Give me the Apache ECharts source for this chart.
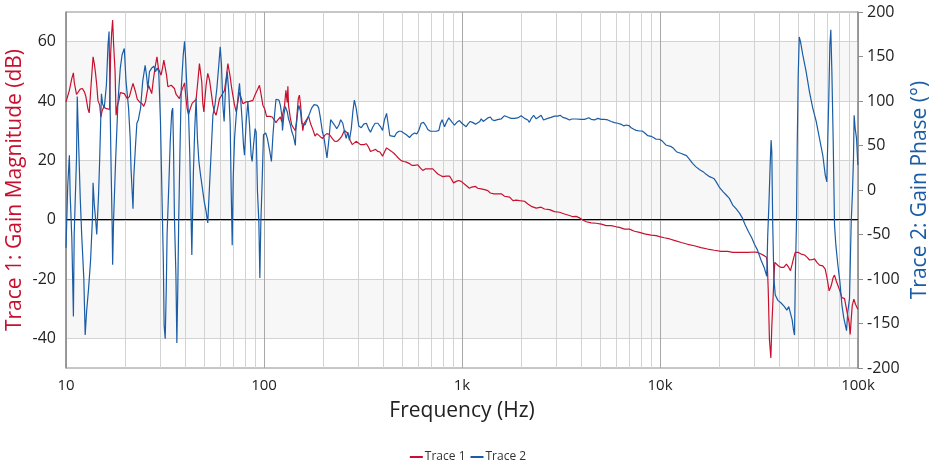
<!DOCTYPE html>
<html><head><meta charset="utf-8">
<script src="https://cdn.jsdelivr.net/npm/echarts@6/dist/echarts.min.js"></script>
<style>html,body{margin:0;padding:0;background:#fff}#c{width:936px;height:468px}</style>
</head><body><div id="c"></div>
<script>
// Trace 1: gain magnitude (dB)
const freq1 = [
10.0,10.4,10.7,10.9,11.0,11.3,11.5,11.8,12.1,12.4,
12.6,12.9,13.1,13.4,13.7,13.9,14.1,14.3,14.5,14.8,
15.0,15.2,15.5,16.0,16.3,16.6,16.8,17.0,17.2,17.4,
17.7,17.9,18.2,18.5,18.8,19.2,19.7,20.4,20.9,21.5,
21.8,22.4,22.9,23.5,24.2,24.7,25.2,25.6,26.1,26.5,
27.1,27.6,28.2,28.8,29.3,29.9,30.2,30.7,31.2,31.7,
32.2,32.7,33.3,34.0,34.6,35.3,36.0,36.7,37.4,38.2,
38.9,39.7,40.3,40.9,41.6,42.4,43.4,44.4,45.4,46.3,
47.2,48.0,48.5,49.1,49.7,50.3,51.0,52.0,53.1,54.1,
55.2,56.2,57.3,58.5,59.6,60.8,62.0,63.2,64.4,65.7,
66.4,67.5,68.5,69.6,71.0,72.4,73.8,75.2,76.7,78.2,
79.7,81.3,82.9,84.5,86.1,87.8,89.9,92.4,94.9,96.8,
98.7,101,103,107,110,113,115,117,121,123,
124,127,129,131,132,133,136,138,141,144,
146,149,151,153,155,157,159,162,165,168,
172,176,181,185,189,193,198,203,208,214,
221,227,234,241,247,255,260,266,272,279,
284,292,298,307,319,329,337,345,355,366,
376,385,397,406,416,425,439,453,465,478,
493,508,524,543,558,576,598,617,634,652,
677,712,732,755,779,800,832,865,882,906,
935,960,990,1010,1050,1090,1120,1170,1200,1250,
1300,1350,1390,1450,1580,1640,1740,1810,1880,1950,
2070,2150,2240,2370,2510,2610,2770,2930,3110,3290,
3490,3630,3770,3920,4080,4240,4490,4760,5050,5350,
5670,6010,6240,6620,7010,7430,7880,8350,9020,9560,
9940,10500,11200,11800,12800,13800,14900,16100,17400,18800,
20400,22000,23300,25700,27800,30000,31000,32400,33700,34500,
34800,35200,35700,36300,36700,37100,37600,38000,38800,39700,
40900,42200,43500,44700,45600,46500,47400,48200,49700,51600,
53700,55400,56900,58500,60300,62000,63900,66400,68300,69900,
71500,73200,74900,76100,77600,79100,81000,82900,85500,87500,
88800,90200,91300,92400,93500,95300,97100,99800];
const mag1 = [
39.7,43.6,47.6,49.5,46.4,42.2,42.8,44,44.2,43,
41.5,37.4,36,45.9,54.9,52.6,49.3,45.3,40.2,38.6,
34.6,36.5,38,37.4,37.2,37.2,55.5,62.8,67.3,58.9,
49.8,35.2,38.6,40.2,42.8,43.3,42.5,40.8,41.5,44.6,
45.9,43.3,40.6,39.7,39.1,38.2,39.7,42.5,45.3,44.2,
42.5,47,51.5,54.9,51,50.4,48.7,51,53.8,53.3,
48.7,44.8,44.5,45.3,45.9,44.2,42.2,41.8,40.8,43,
44.6,46.1,41.4,37.4,35.4,37.4,39.3,39.3,40.5,46.4,
52.6,52,46.4,39.1,36.3,40.8,45.3,49.3,47,43,
38.6,36.3,35.2,38,40.8,41.7,42.2,43.6,47.6,52.6,
52,48.1,44.8,42,38.6,36.3,39.7,43,41,39.1,
39.7,39.7,40.2,39.9,39.3,40.2,41.9,43.6,45.3,42,
38.6,37.2,34.8,34.8,34.6,33.5,32.7,33.5,34.6,33,
35.2,38.5,43.6,39.5,45,38.5,34,32,30.9,30,
33.4,40.8,42,38.6,34,30,32.3,32.3,34,34.8,
32.3,30.6,28.2,29,29.4,27.9,27.4,28.5,29,28.7,
27.4,26.5,26.4,27.2,28.1,30.1,30.7,29,26.8,25.3,
25.6,26.4,26,25.3,25.3,25.6,24.5,23,23.3,23.7,
23,22.8,21.4,22.8,24.2,23.7,23.1,22.4,21.6,20.7,
19.9,19.6,19.4,18.9,18.3,18.3,18.5,17.4,16.6,17.1,
17.1,17.1,16.3,15.4,14.9,14.5,14.7,14.7,13.8,12.4,
12.9,13.2,12.9,12.4,11.5,10.6,11,11.2,10.6,10.4,
10.1,9.8,9,8.7,8.7,7.9,7.6,6.4,6.6,6.4,
6.2,5.3,4.5,3.9,4.2,3.6,3.4,2.7,2.5,1.9,
1.4,1,1.1,0.6,-0.1,-0.7,-1.1,-1.2,-1.5,-2,
-2,-2.4,-2.6,-3.2,-3.2,-3.9,-4.3,-4.8,-5.2,-5.4,
-5.7,-6.1,-6.5,-7,-7.7,-8.3,-8.8,-9.4,-9.9,-10.3,
-10.7,-10.7,-11,-11,-11,-10.9,-11,-11.6,-12.2,-12.7,
-14.4,-23.4,-40.4,-46.6,-35.9,-29,-20,-14.4,-15,-15.6,
-16.1,-16.1,-15,-16.1,-17.2,-15,-12.7,-11,-11,-11.6,
-11.9,-12.7,-13.6,-13.5,-13.2,-14.4,-15.3,-15.6,-16.7,-20,
-24,-22.3,-19.5,-18.7,-20.6,-21.2,-24,-26.3,-26.6,-26.8,
-32.4,-34.7,-38.7,-33.6,-29,-26.8,-28.5,-30.2];

// Trace 2: gain phase (degrees)
const freq2 = [
10.0,10.2,10.4,10.5,10.7,10.9,11.0,11.3,11.4,11.6,
11.8,12.0,12.3,12.5,12.7,13.0,13.3,13.6,13.7,13.9,
14.1,14.3,14.6,14.8,15.1,15.3,15.6,16.0,16.3,16.5,
16.7,16.9,17.1,17.2,17.4,17.8,18.3,18.8,19.2,19.7,
20.1,20.7,21.1,21.3,21.8,22.0,22.4,22.8,23.2,23.8,
24.4,25.1,25.5,25.9,26.4,27.1,27.8,28.3,28.9,29.4,
30.0,30.5,31.0,31.3,31.7,32.1,32.4,33.1,33.6,34.2,
34.6,34.9,35.3,35.9,36.3,36.7,37.1,37.6,38.2,39.1,
39.7,40.1,40.8,41.6,42.2,42.7,43.2,44.0,44.7,45.4,
46.1,46.9,47.8,48.7,49.9,51.0,52.0,53.1,54.1,55.2,
56.5,57.8,59.1,60.1,61.0,62.0,62.9,63.9,65.2,66.4,
67.5,68.3,69.1,69.9,71.0,72.4,74.1,75.2,76.4,77.6,
78.8,79.7,81.3,82.9,84.5,86.1,87.1,88.5,90.2,91.3,
92.7,94.2,95.3,96.4,97.9,99.4,102,104,107,109,
111,113,115,119,121,123,124,126,128,131,
133,136,138,141,144,145,148,150,153,155,
158,161,165,170,174,179,182,186,189,193,
197,201,204,208,213,217,221,227,233,239,
244,250,255,260,265,270,276,281,286,292,
301,310,319,329,337,345,355,364,376,388,
397,406,416,422,432,442,456,467,480,493,
508,524,543,558,576,591,605,622,639,654,
672,693,715,741,764,779,794,816,838,858,
875,892,916,942,971,998,1020,1050,1070,1100,
1130,1170,1190,1230,1250,1280,1310,1350,1390,1420,
1460,1510,1580,1640,1700,1770,1840,1910,1990,2070,
2150,2190,2240,2300,2370,2440,2510,2580,2630,2710,
2820,2930,3050,3130,3230,3360,3490,3590,3770,4000,
4160,4370,4490,4670,4850,5050,5240,5450,5670,5890,
6120,6370,6570,6750,6960,7150,7380,7580,7880,8130,
8350,8680,9020,9310,9560,9940,10300,10700,11400,11700,
12100,12800,13600,14100,14600,15200,15800,16500,17100,17800,
18700,19200,20000,20800,21600,22400,23300,24200,25200,26000,
26900,28000,29100,30000,31000,32400,33700,34600,35000,35500,
36000,36400,36700,37100,37600,38200,39400,40900,42500,43700,
44700,45600,46500,47200,47800,48300,48900,49300,49900,50500,
51200,52600,54700,56900,59100,61500,63900,66400,68300,69600,
70400,71200,72100,72900,73800,74900,76100,77300,79100,81000,
82900,84800,87500,88800,90600,92400,93800,94900,95600,96800,
98300,99800];
const phase2 = [
-65,4,39,-6,-54,-142,-50,36,105,47,
-9,-50,-99,-163,-137,-111,-80,-32,8,-17,
-32,-50,-6,36,108,97,92,118,163,178,
95,24,-39,-84,-32,32,99,137,152,159,
122,92,58,24,-21,15,47,75,79,92,
122,140,129,114,133,137,139,133,137,133,
77,-2,-77,-152,-167,-110,-50,9,54,88,
92,50,-32,-95,-172,-110,-32,39,114,152,
167,152,114,84,39,-17,-73,20,69,103,
58,32,17,4,-13,-24,-37,6,43,84,
95,114,140,161,140,95,77,114,133,110,
73,-2,-62,13,58,84,107,120,99,77,
50,39,77,99,73,39,32,50,69,65,
-2,-36,-99,-36,10,62,64,58,43,32,
62,84,102,101,95,84,67,84,94,88,
80,73,66,60,50,69,88,95,88,75,
77,73,79,86,92,96,97,95,92,80,
66,58,49,36,58,79,77,73,69,73,
79,75,66,58,65,56,69,88,101,92,
72,70,74,75,69,65,71,75,75,71,
67,79,86,77,61,60,60,64,66,66,
64,62,59,62,64,63,67,75,76,73,
68,66,66,66,67,75,79,71,77,81,
82,76,73,76,78,75,73,71,74,77,
76,74,73,77,80,77,79,81,82,79,
78,79,80,83.5,82,80.5,80.5,81,83.5,80.5,
78.7,76,80.5,84,80,82,84,78.7,78.7,80.5,
81.6,83,83,84,81.6,80.5,78.7,79.8,79.8,79.4,
79.4,81.2,79.4,78.7,80.5,79.4,79.4,78.7,77,75.7,
75,73.8,72,73,72.4,70,68.2,67,66.3,66.3,
64.4,61,60.3,58.8,57,57,54.7,50.6,48.7,46.8,
43,41,38.6,34.5,30,26,23,20.6,17.6,15,
13,9.4,2.6,-1.9,-5.6,-9.4,-16.9,-21,-26,-31,
-39,-47,-54,-61,-67,-79,-88,-97,-51,-15,
28,56,43,-39,-99,-118,-124,-127,-131,-135,
-131,-129,-146,-157,-163,-92,-36,47,129,172,
167,152,133,110,92,77,58,39,17,9,
58,103,163,180,133,58,-39,-62,-84,-103,
-129,-144,-158,-137,-122,-36,-2,36,84,69,
58,28];

const seriesNames = ['Trace 1', 'Trace 2'];
const xTickLabels = {10: '10', 100: '100', 1000: '1k', 10000: '10k', 100000: '100k'};
const leftTicks = [-40, -20, 0, 20, 40, 60];
const minorFreqs = [20,30,40,50,60,70,80,90,200,300,400,500,600,700,800,900,
  2000,3000,4000,5000,6000,7000,8000,9000,20000,30000,40000,50000,60000,70000,80000,90000];

const FONT = "'Segoe UI','Open Sans',sans-serif";
const RED = '#C8102E', BLUE = '#1A5DA6';

const data1 = freq1.map((f, i) => [f, mag1[i]]);
const data2 = freq2.map((f, i) => [f, phase2[i]]);

const markData = minorFreqs.map(f => ({xAxis: f}));
markData.push({yAxis: 0, lineStyle: {color: '#000', width: 1, type: 'solid'}});

const chart = echarts.init(document.getElementById('c'), null, {renderer: 'canvas'});
chart.setOption({
  animation: false,
  textStyle: {fontFamily: FONT},
  legend: {
    data: seriesNames, top: 446, left: 'center', icon: 'rect', itemWidth: 13, itemHeight: 2, itemGap: 5,
    textStyle: {fontSize: 12, color: '#333', fontFamily: FONT, padding: [0, 0, 0, -3]}
  },
  grid: {left: 66, right: 78, top: 12, bottom: 100, containLabel: false, outerBoundsMode: 'none',
    show: true, borderColor: '#8e8e8e', borderWidth: 1, backgroundColor: 'transparent'},
  xAxis: {
    type: 'log', logBase: 10, min: 10, max: 100000,
    name: 'Frequency (Hz)', nameLocation: 'middle', nameGap: 33, nameMoveOverlap: false,
    nameTextStyle: {fontSize: 21, color: '#222', fontFamily: FONT},
    axisLine: {show: true, lineStyle: {color: '#8e8e8e', width: 1.5}},
    axisTick: {show: false},
    axisLabel: {fontSize: 15, color: '#222', margin: 10, fontFamily: FONT,
      formatter: v => xTickLabels[Math.round(v)] || ''},
    splitLine: {show: true, lineStyle: {color: '#a8a8a8', width: 1}}
  },
  yAxis: [{
    type: 'value', min: -50, max: 70, position: 'left',
    name: 'Trace 1: Gain Magnitude (dB)', nameLocation: 'middle', nameGap: 40, nameRotate: 90, nameMoveOverlap: false,
    nameTextStyle: {fontSize: 21, color: RED, fontFamily: FONT},
    axisLine: {show: true, lineStyle: {color: '#8e8e8e', width: 1.5}},
    axisTick: {show: false, customValues: leftTicks},
    axisLabel: {customValues: leftTicks, fontSize: 16, color: '#222', margin: 10, fontFamily: FONT},
    splitLine: {show: true, lineStyle: {color: '#d3d3d3', width: 1}},
    splitArea: {show: true, areaStyle: {color: ['#f7f7f7', 'rgba(255,255,255,0)']}}
  }, {
    type: 'value', min: -200, max: 200, interval: 50, position: 'right',
    name: 'Trace 2: Gain Phase (°)', nameLocation: 'middle', nameGap: 52, nameRotate: 90, nameMoveOverlap: false,
    nameTextStyle: {fontSize: 21, color: BLUE, fontFamily: FONT},
    axisLine: {show: true, lineStyle: {color: '#8e8e8e', width: 1.5}},
    axisTick: {show: true, inside: false, length: 5, lineStyle: {color: '#8e8e8e'}},
    axisLabel: {fontSize: 16, color: '#222', margin: 9, fontFamily: FONT},
    splitLine: {show: false}
  }],
  series: [{
    name: seriesNames[0], type: 'line', yAxisIndex: 0, data: data1,
    symbol: 'none', showSymbol: false, lineStyle: {color: RED, width: 1.2}, itemStyle: {color: RED},
    emphasis: {disabled: true},
    markLine: {
      z: 1, silent: true, symbol: ['none', 'none'], label: {show: false},
      lineStyle: {color: '#d3d3d3', width: 1, type: 'solid'},
      emphasis: {disabled: true},
      data: markData
    }
  }, {
    name: seriesNames[1], type: 'line', yAxisIndex: 1, data: data2,
    symbol: 'none', showSymbol: false, lineStyle: {color: BLUE, width: 1.2}, itemStyle: {color: BLUE},
    emphasis: {disabled: true}
  }]
});
</script>
</body></html>
